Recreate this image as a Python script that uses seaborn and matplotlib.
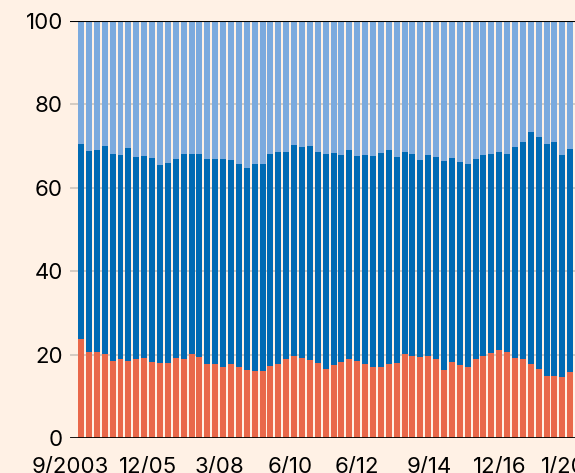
import numpy as np
import pandas as pd
import matplotlib
matplotlib.use("Agg")
import matplotlib.pyplot as plt
import seaborn as sns

# share of each group, percent, one bar per period (quarterly from 9/2003)
orange = [23.7, 20.6, 20.6, 20.1, 18.5, 19.0, 18.5, 19.0, 19.2, 18.2,
          18.0, 18.0, 19.2, 19.0, 20.1, 19.4, 17.7, 17.7, 17.0, 17.7,
          17.0, 16.3, 16.1, 16.1, 17.3, 17.7, 19.0, 19.7, 19.2, 18.7,
          18.0, 16.5, 17.5, 18.2, 19.0, 18.5, 17.7, 17.0, 17.0, 17.7,
          18.0, 20.1, 19.7, 19.4, 19.7, 19.0, 16.3, 18.2, 17.5, 17.0,
          19.0, 19.7, 20.4, 21.1, 20.6, 19.2, 19.0, 17.7, 16.5, 14.9,
          14.9, 14.6, 15.8]
dark_blue = [46.7, 48.2, 48.4, 49.9, 49.6, 48.8, 51.0, 48.3, 48.4, 48.9,
             47.4, 47.9, 47.7, 49.1, 48.0, 48.7, 49.2, 49.2, 49.9, 48.9,
             48.7, 48.4, 49.6, 49.6, 50.8, 50.8, 49.5, 50.5, 50.5, 51.3,
             50.5, 51.6, 50.8, 49.6, 50.0, 49.1, 50.1, 50.6, 51.3, 51.3,
             49.3, 48.4, 48.4, 47.2, 48.1, 48.3, 50.1, 48.9, 48.6, 48.7,
             47.9, 48.1, 47.7, 47.4, 47.5, 50.5, 51.9, 55.6, 55.6, 55.5,
             56.0, 53.2, 53.5]
light_blue = [100 - a - b for a, b in zip(orange, dark_blue)]

tick_labels = ["9/2003", "12/05", "3/08", "6/10", "6/12", "9/14", "12/16", "1/2019"]
tick_pos = [-1.4, 8.5, 17.5, 26.5, 35.0, 44.1, 53.1, 62.6]

bg = "#FFF1E5"
c_orange = "#E9684A"
c_dark = "#006AB4"
c_light = "#7BAADE"

df = pd.DataFrame({"period": range(len(orange)),
                   "orange": orange, "dark": dark_blue, "light": light_blue})
df["top_dark"] = df["orange"] + df["dark"]
df["top_light"] = df["top_dark"] + df["light"]

sns.set_style("white")
plt.rcParams["font.family"] = ["Inter", "DejaVu Sans"]

fig = plt.figure(figsize=(5.75, 4.73), dpi=100, facecolor=bg)
ax = fig.add_axes([70 / 575, 35 / 473, 505 / 575, (438 - 20.7) / 473])
ax.set_facecolor(bg)

for col, c in [("top_light", c_light), ("top_dark", c_dark), ("orange", c_orange)]:
    sns.barplot(data=df, x="period", y=col, color=c, width=0.76, linewidth=0,
                saturation=1, errorbar=None, ax=ax, zorder=2)

ax.set_ylim(0, 100)
ax.set_xlim(-1.39, 62.6)
ax.set_yticks([0, 20, 40, 60, 80, 100])
ax.set_xticks(tick_pos)
ax.set_xticklabels(tick_labels)
ax.set_xlabel("")
ax.set_ylabel("")
for grid_y in [20, 40, 60, 80]:
    ax.axhline(grid_y, color="#cdc5bd", lw=1.2, zorder=1)
ax.axhline(0, color="black", lw=2, zorder=4)
ax.axhline(100, color="black", lw=1.5, zorder=4)
for s in ax.spines.values():
    s.set_visible(False)
ax.tick_params(axis="y", length=0, pad=5, labelsize=16, colors="black")
ax.tick_params(axis="x", length=0, pad=14, labelsize=16, colors="black")

fig.savefig("out.png", dpi=100, facecolor=bg)
